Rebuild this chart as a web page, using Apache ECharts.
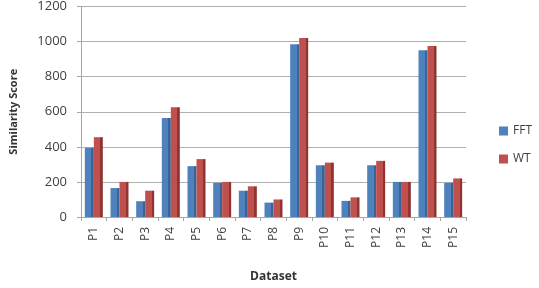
<!DOCTYPE html>
<html><head><meta charset="utf-8">
<script src="https://cdn.jsdelivr.net/npm/echarts@6/dist/echarts.min.js"></script>
<style>html,body{margin:0;padding:0;background:#fff}#c{width:539px;height:288px}</style>
</head><body><div id="c"></div>
<script>
var categories = ['P1','P2','P3','P4','P5','P6','P7','P8','P9','P10','P11','P12','P13','P14','P15'];
var fftValues = [395,165,90,565,290,195,150,82,985,295,92,295,200,950,195];
var wtValues  = [455,200,150,625,330,200,175,100,1020,310,112,320,200,975,220];
var yTicks = [0,200,400,600,800,1000,1200];

function grad(c, d){
  return new echarts.graphic.LinearGradient(0,0,1,0,[
    {offset:0,color:c},{offset:0.72,color:c},{offset:0.72,color:d},{offset:1,color:d}]);
}
var chart = echarts.init(document.getElementById('c'));
chart.setOption({
  animation:false,
  textStyle:{fontFamily:'Open Sans, Liberation Sans, sans-serif'},
  grid:{left:80,right:73,top:5,bottom:70,containLabel:false},
  legend:{
    orient:'vertical', right:2, top:120, itemWidth:9, itemHeight:9, itemGap:16,
    icon:'rect',
    textStyle:{fontSize:12,color:'#404040'},
    data:[{name:'FFT',itemStyle:{color:'#4F81BD'}},{name:'WT',itemStyle:{color:'#C0504D'}}]
  },
  xAxis:{
    type:'category', data:categories,
    name:'Dataset', nameLocation:'middle', nameGap:54,
    nameTextStyle:{fontSize:12,fontWeight:'bold',color:'#333'},
    axisLine:{lineStyle:{color:'#a6a6a6'}},
    axisTick:{show:true,length:4,lineStyle:{color:'#a6a6a6'}},
    axisLabel:{rotate:90,fontSize:12,color:'#404040',margin:10}
  },
  yAxis:{
    type:'value', min:yTicks[0], max:yTicks[yTicks.length-1], interval:yTicks[1]-yTicks[0],
    name:'Similarity Score', nameLocation:'middle', nameGap:62, nameRotate:90,
    nameTextStyle:{fontSize:11,fontWeight:'bold',color:'#333'},
    axisLine:{show:true,lineStyle:{color:'#a6a6a6'}},
    axisTick:{show:true,length:4,lineStyle:{color:'#a6a6a6'}},
    axisLabel:{fontSize:13,color:'#404040',margin:14,formatter:function(v){return String(v);}},
    splitLine:{lineStyle:{color:'#b0b0b0'}}
  },
  series:[
    {name:'FFT',type:'bar',data:fftValues,barWidth:9,barGap:'0%',
     itemStyle:{color:grad('#4F81BD','#3a6496')}},
    {name:'WT',type:'bar',data:wtValues,barWidth:9,barGap:'0%',
     itemStyle:{color:grad('#C0504D','#8f3431')}}
  ]
});
</script></body></html>
